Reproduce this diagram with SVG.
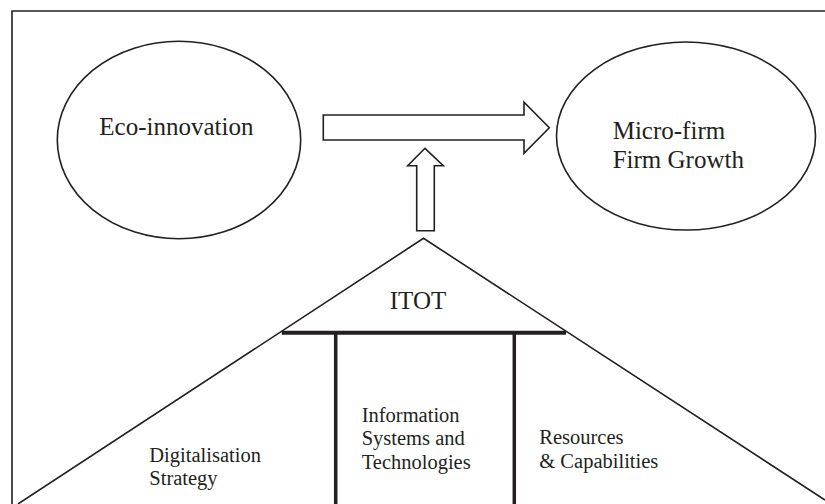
<svg xmlns="http://www.w3.org/2000/svg" width="825" height="504" viewBox="0 0 825 504" font-family="'Liberation Serif', 'DejaVu Serif', serif">
  <style>
    .line { fill: none; stroke: #231f20; stroke-width: 1.6; }
    .shape { fill: #ffffff; stroke: #231f20; stroke-width: 1.6; }
    .beam { fill: none; stroke: #231f20; stroke-width: 4; }
    .pillar { fill: none; stroke: #231f20; stroke-width: 3.5; }
    text { font-family: 'Liberation Serif', 'DejaVu Serif', serif; fill: #231f20; }
    .big { font-size: 25px; }
    .small { font-size: 20.5px; }
  </style>
  <rect x="0" y="0" width="825" height="504" fill="#ffffff"/>

  <!-- outer frame (open at right and bottom) -->
  <path class="line" d="M12,504 V11 H825"/>

  <g id="eco-innovation">
    <ellipse class="shape" cx="179" cy="140" rx="121.7" ry="98.7"/>
    <text class="big" x="99.3" y="135" font-family="Liberation Serif">Eco-innovation</text>
  </g>

  <g id="firm-growth">
    <ellipse class="shape" cx="686" cy="136" rx="129.5" ry="94"/>
    <text class="big" x="612.7" y="139">Micro-firm</text>
    <text class="big" x="612.7" y="168.3">Firm Growth</text>
  </g>

  <g id="itot">
    <!-- roof and walls of the house -->
    <path class="line" d="M18,504 L423.5,238.3 L825,500"/>
    <line class="beam" x1="281.7" y1="332.7" x2="566" y2="332.7"/>
    <text class="big" x="418" y="309.3" text-anchor="middle" font-size="24.5">ITOT</text>
  </g>

  <g id="digitalisation-strategy">
    <text class="small" x="149.3" y="461.7">Digitalisation</text>
    <text class="small" x="149.3" y="485">Strategy</text>
  </g>

  <g id="information-systems">
    <line class="pillar" x1="335.7" y1="333" x2="335.7" y2="504"/>
    <line class="pillar" x1="514.3" y1="333" x2="514.3" y2="504"/>
    <text class="small" x="361.7" y="422">Information</text>
    <text class="small" x="361.7" y="445.3">Systems and</text>
    <text class="small" x="361.7" y="469">Technologies</text>
  </g>

  <g id="resources-capabilities">
    <text class="small" x="539.3" y="444.3">Resources</text>
    <text class="small" x="539.3" y="468">&amp; Capabilities</text>
  </g>

  <g id="connectors">
    <!-- block arrow: eco-innovation to growth -->
    <polygon class="shape" points="323.3,115 524,115 524,102.3 549.3,127.7 524,153.3 524,140 323.3,140"/>
    <!-- block arrow: ITOT moderating upward -->
    <polygon class="shape" points="416.7,230.7 416.7,165.7 407.7,165.7 425,148.3 443.3,165.7 434.3,165.7 434.3,230.7"/>
  </g>
</svg>
